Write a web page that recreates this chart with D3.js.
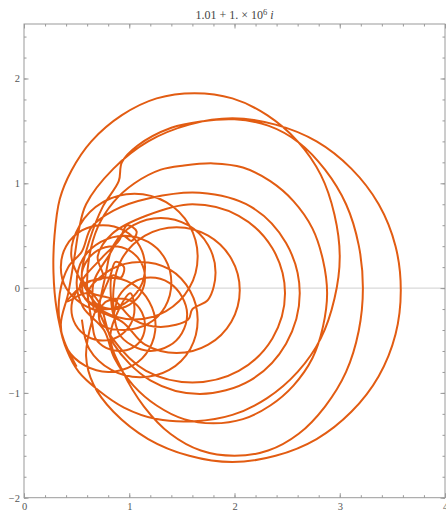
<!DOCTYPE html>
<html>
<head>
<meta charset="utf-8">
<script src="https://cdn.jsdelivr.net/npm/d3@7"></script>
<style>
  html, body { margin: 0; padding: 0; background: #fff; }
  svg { display: block; }
  text { font-family: "Liberation Serif", "DejaVu Serif", serif; }
</style>
</head>
<body>
<svg id="chart" width="446" height="516"></svg>
<script>
// Tick values
const xMajor = [0, 1, 2, 3, 4];
const yMajor = [-2, -1, 0, 1, 2];
const xMinor = d3.range(0, 4.001, 0.2);
const yMinor = d3.range(-2, 2.52, 0.2);

// Traced curve, as [re, im] pairs, one array per excursion, in drawing order
const loopA = [[0.5,-0.75],[0.38,-0.5],[0.31,-0.2],[0.28,0.15],[0.29,0.5],[0.34,0.85],[0.45,1.12],[0.64,1.40],[0.93,1.65],[1.26,1.81],[1.62,1.86],[1.98,1.81],[2.31,1.65],[2.60,1.40],[2.82,1.08],[2.95,0.70],[3.0,0.30],[2.95,-0.10],[2.82,-0.48],[2.60,-0.80],[2.31,-1.05],[1.98,-1.21],[1.62,-1.27],[1.26,-1.25],[0.95,-1.14],[0.7,-0.97],[0.52,-0.8],[0.41,-0.6],[0.34,-0.35],[0.34,-0.05],[0.42,0.2]];
const loopE = [[0.55,0.35],[0.64,0.58],[0.85,0.74],[1.2,0.86],[1.67,0.91],[2.15,0.78],[2.49,0.43],[2.62,-0.05],[2.49,-0.53],[2.15,-0.88],[1.67,-1.01],[1.2,-0.88],[0.85,-0.53],[0.72,-0.15]];
const smallA = [[0.55,0.1],[0.59,0.25],[0.7,0.36],[0.85,0.4],[1.0,0.36],[1.11,0.25],[1.15,0.1],[1.11,-0.05],[1.0,-0.16],[0.85,-0.2],[0.7,-0.16],[0.59,-0.05]];
const midE = [[0.41,-0.13],[0.58,0.04],[0.8,0.1],[1.03,0.04],[1.19,-0.13],[1.25,-0.35],[1.19,-0.58],[1.03,-0.74],[0.8,-0.8],[0.58,-0.74],[0.41,-0.58],[0.35,-0.35]];
const loopB = [[0.42,-0.05],[0.48,0.3],[0.52,0.55],[0.59,0.80],[0.85,1.14],[1.18,1.40],[1.57,1.56],[1.98,1.62],[2.39,1.56],[2.78,1.40],[3.11,1.14],[3.37,0.80],[3.53,0.40],[3.58,-0.02],[3.53,-0.44],[3.37,-0.84],[3.11,-1.18],[2.78,-1.44],[2.39,-1.60],[1.98,-1.66],[1.57,-1.60],[1.18,-1.44],[0.85,-1.18],[0.66,-0.92],[0.59,-0.65]];
const curlB = [[0.65,-0.3],[0.75,-0.05],[0.82,0.12],[0.87,0.25],[0.95,0.2],[0.92,0.1],[0.84,0.12]];
const smallB = [[0.85,-0.25],[0.9,-0.08],[1.03,0.05],[1.2,0.1],[1.38,0.05],[1.5,-0.08],[1.55,-0.25],[1.5,-0.43],[1.38,-0.55],[1.2,-0.6],[1.03,-0.55],[0.9,-0.43]];
const loopG = [[0.85,-0.02],[0.93,0.28],[1.15,0.5],[1.45,0.58],[1.75,0.5],[1.97,0.28],[2.05,-0.02],[1.97,-0.32],[1.75,-0.54],[1.45,-0.62],[1.15,-0.54],[0.93,-0.32]];
const midG = [[0.55,-0.15],[0.4,0.0],[0.35,0.2],[0.4,0.4],[0.55,0.55],[0.75,0.6],[0.95,0.55],[1.1,0.4],[1.15,0.2],[1.1,0.0],[0.95,-0.15],[0.75,-0.2],[0.58,-0.1]];
const loopC = [[0.55,0.15],[0.62,0.45],[0.75,0.78],[0.9,1.02],[0.93,1.2],[1.08,1.36],[1.4,1.53],[1.68,1.59],[2.0,1.61],[2.32,1.55],[2.61,1.39],[2.86,1.13],[3.06,0.8],[3.18,0.41],[3.22,0.0],[3.18,-0.41],[3.06,-0.8],[2.86,-1.13],[2.61,-1.39],[2.32,-1.55],[2.0,-1.6],[1.68,-1.55],[1.39,-1.39],[1.14,-1.13],[0.94,-0.8],[0.82,-0.45]];
const smallC = [[1.01,-0.05],[1.05,-0.2],[1.01,-0.35],[0.9,-0.46],[0.75,-0.5],[0.6,-0.46],[0.49,-0.35],[0.45,-0.2],[0.49,-0.05],[0.6,0.06],[0.75,0.1]];
const loopF = [[0.7,0.3],[0.84,0.52],[1.16,0.69],[1.6,0.8],[2.04,0.69],[2.36,0.38],[2.48,-0.05],[2.36,-0.48],[2.04,-0.79],[1.6,-0.9],[1.16,-0.79],[0.84,-0.48],[0.7,-0.2]];
const midF = [[0.45,0.3],[0.53,0.6],[0.75,0.82],[1.05,0.9],[1.35,0.82],[1.57,0.6],[1.65,0.3],[1.57,0.0],[1.35,-0.22],[1.05,-0.3],[0.75,-0.22],[0.53,0.0]];
const curlF = [[0.75,0.3],[0.9,0.45],[0.98,0.6],[1.07,0.54],[1.02,0.45],[0.94,0.5],[0.8,0.3],[0.66,0.05]];
const smallF = [[0.68,-0.23],[0.78,-0.13],[0.9,-0.1],[1.03,-0.13],[1.12,-0.23],[1.15,-0.35],[1.12,-0.48],[1.03,-0.57],[0.9,-0.6],[0.78,-0.57],[0.68,-0.48],[0.65,-0.35]];
const loopD = [[0.6,0.0],[0.62,0.3],[0.7,0.58],[0.85,0.82],[1.05,1.0],[1.3,1.13],[1.52,1.17],[1.8,1.19],[2.08,1.15],[2.34,1.02],[2.56,0.83],[2.74,0.57],[2.84,0.27],[2.88,-0.05],[2.84,-0.37],[2.74,-0.67],[2.56,-0.93],[2.34,-1.12],[2.08,-1.25],[1.8,-1.29],[1.52,-1.25],[1.26,-1.12],[1.04,-0.93],[0.86,-0.67],[0.76,-0.4]];
const midD = [[0.56,-0.18],[0.5,0.05],[0.56,0.28],[0.73,0.44],[0.95,0.5],[1.18,0.44],[1.34,0.28],[1.4,0.05],[1.34,-0.18],[1.18,-0.34],[0.95,-0.4],[0.73,-0.34]];
const loopH = [[0.78,0.15],[0.85,0.41],[1.04,0.6],[1.3,0.67],[1.56,0.6],[1.75,0.41],[1.82,0.15],[1.75,-0.11],[1.6,-0.2],[1.56,-0.3],[1.3,-0.37],[1.04,-0.3],[0.85,-0.11]];
const midH = [[0.62,-0.03],[0.83,0.18],[1.1,0.25],[1.38,0.18],[1.58,-0.03],[1.65,-0.3],[1.58,-0.58],[1.38,-0.78],[1.1,-0.85],[0.83,-0.78],[0.62,-0.58],[0.55,-0.3]];

const pathOrder = [loopA, loopE, smallA, midE, loopB, curlB, smallB, loopG, midG,
  loopC, smallC, loopF, midF, curlF, smallF, loopD, midD, loopH, midH];
const curve = pathOrder.flat();

// Layout
const plotL = 24, plotR = 445, plotT = 24, plotB = 497.7;
const svg = d3.select("#chart");

const x = d3.scaleLinear().domain([0, 4]).range([plotL, plotR]);
const y = d3.scaleLinear().domain([-2, 2.52]).range([plotB, plotT]);

const frameColor = "#9a9a9a";
const labelColor = "#555";
const curveColor = "#e25c12";

// Zero axis
svg.append("line")
  .attr("x1", x(0)).attr("x2", x(4))
  .attr("y1", y(0)).attr("y2", y(0))
  .attr("stroke", "#cfcfcf").attr("stroke-width", 1);

// Curve, clipped to the frame
svg.append("clipPath").attr("id", "plotclip")
  .append("rect").attr("x", plotL).attr("y", plotT)
  .attr("width", plotR - plotL).attr("height", plotB - plotT);

const line = d3.line()
  .x(d => x(d[0])).y(d => y(d[1]))
  .curve(d3.curveCatmullRom.alpha(0.5));

svg.append("path")
  .datum(curve)
  .attr("clip-path", "url(#plotclip)")
  .attr("d", line)
  .attr("fill", "none")
  .attr("stroke", curveColor)
  .attr("stroke-width", 2)
  .attr("stroke-linejoin", "round");

// Frame
svg.append("rect")
  .attr("x", plotL).attr("y", plotT)
  .attr("width", plotR - plotL).attr("height", plotB - plotT)
  .attr("fill", "none").attr("stroke", frameColor).attr("stroke-width", 1);

const fmt = d3.format("d");
function styleAxis(g) {
  g.select(".domain").remove();
  g.selectAll(".tick line").attr("stroke", frameColor);
  g.selectAll(".tick text").attr("fill", labelColor).style("font-size", "10.5px")
    .style("font-family", "'Liberation Serif', 'DejaVu Serif', serif");
}

// Minor ticks (all four sides, inward)
svg.append("g").attr("transform", `translate(0,${plotB})`)
  .call(d3.axisBottom(x).tickValues(xMinor).tickSize(-2.5).tickFormat(""))
  .call(styleAxis);
svg.append("g").attr("transform", `translate(0,${plotT})`)
  .call(d3.axisTop(x).tickValues(xMinor).tickSize(-2.5).tickFormat(""))
  .call(styleAxis);
svg.append("g").attr("transform", `translate(${plotL},0)`)
  .call(d3.axisLeft(y).tickValues(yMinor).tickSize(-2.5).tickFormat(""))
  .call(styleAxis);
svg.append("g").attr("transform", `translate(${plotR},0)`)
  .call(d3.axisRight(y).tickValues(yMinor).tickSize(-2.5).tickFormat(""))
  .call(styleAxis);

// Major ticks with labels on bottom and left
svg.append("g").attr("transform", `translate(0,${plotB})`)
  .call(d3.axisBottom(x).tickValues(xMajor).tickSize(-4.5).tickPadding(5).tickFormat(fmt))
  .call(styleAxis);
svg.append("g").attr("transform", `translate(0,${plotT})`)
  .call(d3.axisTop(x).tickValues(xMajor).tickSize(-4.5).tickFormat(""))
  .call(styleAxis);
svg.append("g").attr("transform", `translate(${plotL},0)`)
  .call(d3.axisLeft(y).tickValues(yMajor).tickSize(-4.5).tickPadding(4).tickFormat(fmt))
  .call(styleAxis);
svg.append("g").attr("transform", `translate(${plotR},0)`)
  .call(d3.axisRight(y).tickValues(yMajor).tickSize(-4.5).tickFormat(""))
  .call(styleAxis);

// Title
const title = svg.append("text")
  .attr("x", (plotL + plotR) / 2).attr("y", 19)
  .attr("text-anchor", "middle")
  .attr("fill", "#444")
  .style("font-size", "12px");
title.append("tspan").text("1.01 + 1. \u00d7 10");
title.append("tspan").attr("dy", -4).style("font-size", "8.5px").text("6");
title.append("tspan").attr("dy", 4).text(" ");
title.append("tspan").style("font-style", "italic").text("i");
</script>
</body>
</html>
